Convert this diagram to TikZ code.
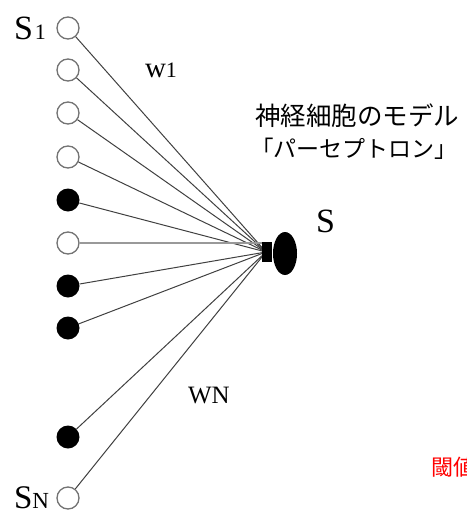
\documentclass[tikz,border=0pt]{standalone}
\usepackage{fontspec}
\setmainfont{Liberation Serif}
\newfontfamily\jp{Noto Sans CJK JP}
\usetikzlibrary{shapes.geometric}
\begin{document}
\begin{tikzpicture}[x=1pt,y=-1pt,
  openin/.style={circle,draw=black!55,line width=1.3pt,fill=white,minimum size=22pt,inner sep=0pt},
  fullin/.style={circle,fill=black,minimum size=23pt,inner sep=0pt},
  wire/.style={draw=black!75,line width=1pt},
  lbl/.style={anchor=base west,inner sep=0pt,outer sep=0pt}]
\useasboundingbox (0,0) rectangle (466,514);
\coordinate (hub) at (266,252);
% inputs
\node[openin] (c1) at (68,28) {};
\node[openin] (c2) at (68,70) {};
\node[openin] (c3) at (68,113) {};
\node[openin] (c4) at (68,157) {};
\node[fullin] (c5) at (68,200) {};
\node[openin] (c6) at (68,243) {};
\node[fullin] (c7) at (68,286) {};
\node[fullin] (c8) at (68,328) {};
\node[fullin] (c9) at (68,437) {};
\node[openin] (c10) at (68,498) {};
% wires
\foreach \i in {1,2,3,4,5,7,8,9,10} \draw[wire] (c\i) -- (hub);
\draw[draw=black!40,line width=2pt] (c6.east) -- (hub |- c6.east);
% neuron
\node[fill=black,minimum width=10pt,minimum height=20pt,inner sep=0pt] (axon) at (267,252) {};
\node[ellipse,fill=black,minimum width=24pt,minimum height=43pt,inner sep=0pt] (soma) at (285,253.5) {};
% labels
\node[lbl] (s1) at (14,39) {\fontsize{34}{34}\selectfont S\hspace{2pt}\fontsize{22}{22}\selectfont 1};
\node[lbl] (sn) at (14,508) {\fontsize{33}{33}\selectfont S\fontsize{23}{23}\selectfont N};
\node[lbl] (w1) at (145,77) {\fontsize{29}{29}\selectfont w\fontsize{22}{22}\selectfont 1};
\node[lbl] (wn) at (188,403) {\fontsize{25}{25}\selectfont WN};
\node[lbl] (s) at (316,232) {\fontsize{34}{34}\selectfont S};
\node[anchor=base,inner sep=0pt] (t1) at (357,125) {\jp\fontsize{25.5}{25.5}\selectfont 神経細胞のモデル};
\node[anchor=base,inner sep=0pt] (t2) at (354,157) {\jp\fontsize{23}{23}\selectfont ｢パーセプトロン｣};
\node[lbl,text=red] (th) at (431,475) {\jp\fontsize{22}{22}\selectfont 閾値};
\end{tikzpicture}
\end{document}
